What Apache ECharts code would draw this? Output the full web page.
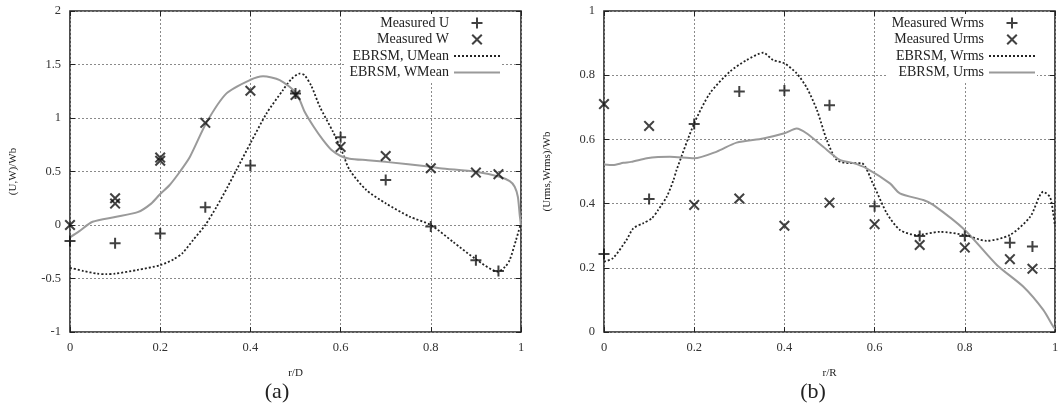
<!DOCTYPE html>
<html>
<head>
<meta charset="utf-8">
<script src="https://cdn.jsdelivr.net/npm/echarts@6/dist/echarts.min.js"></script>
<style>
  html, body { margin: 0; padding: 0; background: #fff; }
</style>
</head>
<body>
<div id="main" style="width: 1064px;height:408px;"></div>
<script>
// ---- (a) mean velocities ----
var measR = [0, 0.1, 0.2, 0.3, 0.4, 0.5, 0.6, 0.7, 0.8, 0.9, 0.95];
var measU = [-0.15, -0.17, -0.08, 0.165, 0.555, 1.23, 0.82, 0.42, -0.015, -0.33, -0.43];
var measWr = [0, 0.1, 0.1, 0.2, 0.2, 0.3, 0.4, 0.5, 0.6, 0.7, 0.8, 0.9, 0.95];
var measW = [0, 0.25, 0.2, 0.63, 0.6, 0.955, 1.255, 1.215, 0.73, 0.645, 0.53, 0.49, 0.475];

var uMeanR = [0, 0.03, 0.06, 0.08, 0.1, 0.15, 0.2, 0.23, 0.25, 0.273, 0.3, 0.325, 0.35, 0.369, 0.4, 0.436, 0.472, 0.49, 0.509, 0.52, 0.535, 0.554, 0.583, 0.602, 0.62, 0.657, 0.7, 0.753, 0.8, 0.85, 0.9, 0.949, 0.965, 0.975, 0.989, 1.0];
var uMean = [-0.4, -0.43, -0.455, -0.46, -0.455, -0.42, -0.375, -0.32, -0.26, -0.14, 0.0, 0.17, 0.36, 0.514, 0.764, 1.044, 1.26, 1.36, 1.415, 1.4, 1.3, 1.105, 0.872, 0.7, 0.514, 0.327, 0.203, 0.078, 0.0, -0.16, -0.32, -0.436, -0.39, -0.327, -0.14, 0.02];

var wMeanR = [0, 0.02, 0.05, 0.1, 0.15, 0.18, 0.2, 0.221, 0.244, 0.266, 0.303, 0.347, 0.399, 0.428, 0.465, 0.502, 0.52, 0.54, 0.56, 0.58, 0.6, 0.62, 0.66, 0.7, 0.8, 0.82, 0.9, 0.952, 0.975, 0.986, 0.993, 0.997, 1.0];
var wMean = [-0.115, -0.06, 0.03, 0.075, 0.12, 0.2, 0.29, 0.374, 0.5, 0.638, 0.96, 1.23, 1.355, 1.39, 1.355, 1.23, 1.06, 0.92, 0.8, 0.7, 0.645, 0.62, 0.605, 0.59, 0.545, 0.53, 0.498, 0.451, 0.41, 0.358, 0.264, 0.1, 0.0];

// ---- (b) rms velocities ----
var measWrms = [0.243, 0.414, 0.648, 0.749, 0.752, 0.706, 0.392, 0.299, 0.299, 0.278, 0.266];
var measUrms = [0.71, 0.642, 0.396, 0.416, 0.331, 0.403, 0.336, 0.271, 0.263, 0.227, 0.197];

var wrmsR = [0, 0.02, 0.05, 0.065, 0.087, 0.106, 0.12, 0.139, 0.154, 0.161, 0.2, 0.235, 0.279, 0.316, 0.353, 0.375, 0.4, 0.427, 0.45, 0.472, 0.494, 0.516, 0.545, 0.571, 0.597, 0.627, 0.656, 0.693, 0.745, 0.8, 0.848, 0.9, 0.945, 0.974, 0.989, 0.996, 1.0];
var wrms = [0.219, 0.23, 0.287, 0.323, 0.339, 0.354, 0.38, 0.421, 0.473, 0.505, 0.65, 0.744, 0.811, 0.847, 0.87, 0.847, 0.837, 0.806, 0.76, 0.692, 0.598, 0.536, 0.526, 0.526, 0.46, 0.37, 0.318, 0.302, 0.312, 0.302, 0.284, 0.302, 0.359, 0.437, 0.42, 0.37, 0.33];

var urmsR = [0, 0.02, 0.043, 0.06, 0.095, 0.12, 0.146, 0.2, 0.25, 0.294, 0.353, 0.4, 0.427, 0.449, 0.486, 0.523, 0.553, 0.582, 0.634, 0.656, 0.708, 0.73, 0.8, 0.871, 0.93, 0.974, 0.996, 1.0];
var urms = [0.522, 0.52, 0.527, 0.53, 0.541, 0.545, 0.546, 0.541, 0.562, 0.59, 0.603, 0.619, 0.634, 0.619, 0.577, 0.536, 0.526, 0.51, 0.463, 0.432, 0.411, 0.396, 0.318, 0.209, 0.141, 0.069, 0.017, 0.01];

function zip(xs, ys) {
  return xs.map(function (x, i) { return [x, ys[i]]; });
}

var PLUS = 'path://M4.5,0h2v4.5h4.5v2h-4.5v4.5h-2v-4.5h-4.5v-2h4.5z';
var CROSS = 'path://M0,1.3L1.3,0L5,3.7L8.7,0L10,1.3L6.3,5L10,8.7L8.7,10L5,6.3L1.3,10L0,8.7L3.7,5Z';
var FONT = 'Liberation Serif';

function xAx(gi, top) {
  return {
    type: 'value', gridIndex: gi, min: 0, max: 1, interval: 0.2,
    position: top ? 'top' : 'bottom',
    name: top ? '' : (gi === 0 ? 'r/D' : 'r/R'),
    nameLocation: 'middle', nameGap: 36,
    nameTextStyle: { fontFamily: FONT, fontSize: 11, color: '#222' },
    axisLine: { show: false, onZero: false },
    axisTick: { inside: true, length: 5, lineStyle: { color: '#222' } },
    axisLabel: { show: !top, margin: 9, fontFamily: FONT, fontSize: 12.5, color: '#333' },
    splitLine: { show: !top, lineStyle: { type: [2, 2], color: '#8a8a8a', width: 1 } }
  };
}
function yAx(gi, right, min, max, interval, name) {
  return {
    type: 'value', gridIndex: gi, min: min, max: max, interval: interval,
    position: right ? 'right' : 'left',
    name: right ? '' : name,
    nameLocation: 'middle', nameGap: 51,
    nameTextStyle: { fontFamily: FONT, fontSize: 11, color: '#222' },
    axisLine: { show: false, onZero: false },
    axisTick: { inside: true, length: 5, lineStyle: { color: '#222' } },
    axisLabel: { show: !right, margin: 9, fontFamily: FONT, fontSize: 12.5, color: '#333' },
    splitLine: { show: !right, lineStyle: { type: [2, 2], color: '#8a8a8a', width: 1 } }
  };
}

function scatter(name, xi, yi, data, sym, size) {
  return {
    name: name, type: 'scatter', xAxisIndex: xi, yAxisIndex: yi,
    data: data, symbol: sym, symbolSize: size,
    itemStyle: { color: '#111' }, z: 5
  };
}
function dotted(name, xi, yi, data) {
  return {
    name: name, type: 'line', xAxisIndex: xi, yAxisIndex: yi,
    data: data, symbol: 'none', smooth: 0.25,
    lineStyle: { color: '#222', width: 1.8, type: [2, 2] },
    itemStyle: { color: '#222' }, z: 3
  };
}
function grey(name, xi, yi, data) {
  return {
    name: name, type: 'line', xAxisIndex: xi, yAxisIndex: yi,
    data: data, symbol: 'none', smooth: 0.25,
    lineStyle: { color: '#9a9a9a', width: 2 },
    itemStyle: { color: '#9a9a9a' }, z: 3
  };
}

// legend entries for lines: line sample only, no marker
function lineEntry(name) {
  return { name: name, itemStyle: { opacity: 0 } };
}

var myChart = echarts.init(document.getElementById('main'));

var legendBase = {
  orient: 'vertical', align: 'right', top: 14,
  itemWidth: 46, itemHeight: 11, itemGap: 2.5,
  padding: [2, 1, 3, 4],
  backgroundColor: '#fff',
  textStyle: { fontFamily: FONT, fontSize: 14, color: '#222', lineHeight: 14 },
  selectedMode: false
};

var option = {
  animation: false,
  backgroundColor: '#fff',
  title: [
    { text: '(a)', left: 272, top: 376, textAlign: 'center',
      textStyle: { fontFamily: FONT, fontSize: 22, fontWeight: 'normal', color: '#222' } },
    { text: '(b)', left: 808, top: 376, textAlign: 'center',
      textStyle: { fontFamily: FONT, fontSize: 22, fontWeight: 'normal', color: '#222' } }
  ],
  grid: [
    { left: 70, top: 11, width: 451, height: 321, show: true, borderColor: '#222', borderWidth: 1.6, backgroundColor: 'transparent' },
    { left: 604, top: 11, width: 451, height: 321, show: true, borderColor: '#222', borderWidth: 1.6, backgroundColor: 'transparent' }
  ],
  legend: [
    Object.assign({}, legendBase, {
      right: 562,
      data: ['Measured U', 'Measured W', lineEntry('EBRSM, UMean'), lineEntry('EBRSM, WMean')]
    }),
    Object.assign({}, legendBase, {
      right: 27,
      data: ['Measured Wrms', 'Measured Urms', lineEntry('EBRSM, Wrms'), lineEntry('EBRSM, Urms')]
    })
  ],
  xAxis: [xAx(0, false), xAx(0, true), xAx(1, false), xAx(1, true)],
  yAxis: [
    yAx(0, false, -1, 2, 0.5, '(U,W)/Wb'),
    yAx(0, true, -1, 2, 0.5, ''),
    yAx(1, false, 0, 1, 0.2, '(Urms,Wrms)/Wb'),
    yAx(1, true, 0, 1, 0.2, '')
  ],
  series: [
    scatter('Measured U', 0, 0, zip(measR, measU), PLUS, 11),
    scatter('Measured W', 0, 0, zip(measWr, measW), CROSS, 11),
    dotted('EBRSM, UMean', 0, 0, zip(uMeanR, uMean)),
    grey('EBRSM, WMean', 0, 0, zip(wMeanR, wMean)),
    scatter('Measured Wrms', 2, 2, zip(measR, measWrms), PLUS, 11),
    scatter('Measured Urms', 2, 2, zip(measR, measUrms), CROSS, 11),
    dotted('EBRSM, Wrms', 2, 2, zip(wrmsR, wrms)),
    grey('EBRSM, Urms', 2, 2, zip(urmsR, urms))
  ]
};

myChart.setOption(option);
</script>
</body>
</html>
